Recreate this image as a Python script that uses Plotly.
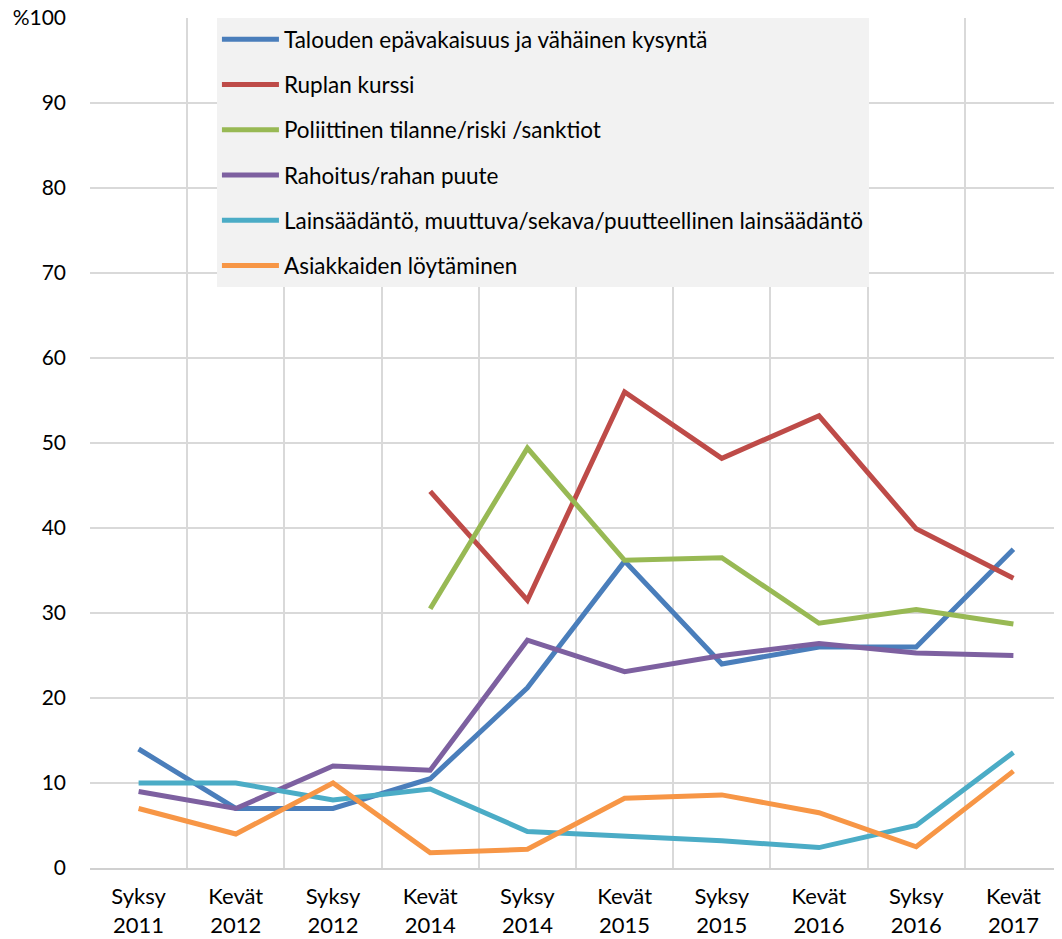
import plotly.graph_objects as go

CATEGORIES = ["Syksy<br>2011", "Kevät<br>2012", "Syksy<br>2012", "Kevät<br>2014", "Syksy<br>2014",
              "Kevät<br>2015", "Syksy<br>2015", "Kevät<br>2016", "Syksy<br>2016", "Kevät<br>2017"]

TALOUS = [14, 7, 7, 10.5, 21.2, 36.1, 24, 26, 26, 37.5]
RUPLA = [None, None, None, 44.3, 31.5, 56, 48.2, 53.2, 39.9, 34.1]
POLIITTINEN = [None, None, None, 30.5, 49.4, 36.2, 36.5, 28.8, 30.4, 28.7]
RAHOITUS = [9, 7, 12, 11.5, 26.8, 23.1, 25, 26.4, 25.3, 25]
LAINSAADANTO = [10, 10, 8, 9.3, 4.3, 3.8, 3.2, 2.4, 5, 13.6]
ASIAKKAAT = [7, 4, 10, 1.8, 2.2, 8.2, 8.6, 6.5, 2.5, 11.4]

SERIES = [
    ("Talouden epävakaisuus ja vähäinen kysyntä", TALOUS, "#4A7EBB"),
    ("Ruplan kurssi", RUPLA, "#BE4B48"),
    ("Poliittinen tilanne/riski /sanktiot", POLIITTINEN, "#98B954"),
    ("Rahoitus/rahan puute", RAHOITUS, "#7D60A0"),
    ("Lainsäädäntö, muuttuva/sekava/puutteellinen lainsäädäntö", LAINSAADANTO, "#4BACC6"),
    ("Asiakkaiden löytäminen", ASIAKKAAT, "#F79646"),
]

Y_TICKS = list(range(0, 101, 10))
Y_LABELS = [str(v) for v in Y_TICKS[:-1]] + ["%100"]

FONT = "Lato, sans-serif"
GRID = "#D9D9D9"

fig = go.Figure()
for i, (name, vals, color) in enumerate(SERIES):
    fig.add_trace(go.Scatter(
        x=CATEGORIES, y=vals, name=name, mode="lines",
        line=dict(color=color, width=5),
        legendgroup=f"g{i}",
    ))

# the page body adds an 8px offset, so the figure is 8px smaller than the window
fig.update_layout(
    width=1054, height=931,
    paper_bgcolor="white", plot_bgcolor="white",
    font=dict(family=FONT, color="black", size=21),
    margin=dict(l=82, r=0, t=10, b=71),
    showlegend=True,
    legend=dict(
        x=0.1306, y=1.0, xanchor="left", yanchor="top",
        bgcolor="#F2F2F2", borderwidth=0,
        font=dict(size=22.5, family=FONT),
        tracegroupgap=13,
        traceorder="grouped",
        itemwidth=57,
    ),
    xaxis=dict(
        type="category", tickson="boundaries",
        showgrid=True, gridcolor=GRID, gridwidth=1.5,
        showline=True, linecolor="#D0D0D0", linewidth=2,
        ticks="", tickfont=dict(size=22), ticklabelstandoff=8,
        range=[-0.5, 9.5], automargin=False,
    ),
    yaxis=dict(
        range=[0, 100], tickvals=Y_TICKS, ticktext=Y_LABELS,
        showgrid=True, gridcolor=GRID, gridwidth=1.5,
        zeroline=False, showline=False,
        ticks="", tickfont=dict(size=21), ticklabelstandoff=23,
        ticklabeloverflow="allow", automargin=False,
    ),
)

fig.write_html("out.html")
